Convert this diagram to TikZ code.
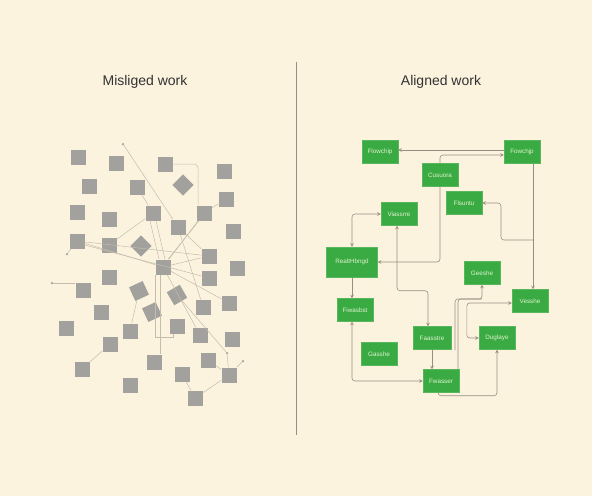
\documentclass[tikz,border=0pt]{standalone}
\usepackage{fontspec}
\setmainfont{Liberation Sans}
\usetikzlibrary{shapes.geometric, arrows, positioning, calc}
\definecolor{papercream}{RGB}{252,243,223}
\definecolor{squaregray}{RGB}{163,161,157}
\definecolor{tanglegray}{RGB}{196,188,172}
\definecolor{boxgreen}{RGB}{58,170,66}
\definecolor{boxtext}{RGB}{222,244,206}
\definecolor{linkgray}{RGB}{150,142,130}
\definecolor{titlegray}{RGB}{50,50,50}
\tikzstyle{graysq} = [rectangle, fill=squaregray, minimum size=15pt, inner sep=0pt]
\tikzstyle{loosedot} = [circle, fill=squaregray, inner sep=0pt, minimum size=2.5pt]
\tikzstyle{mess} = [line width=0.5pt, tanglegray]
\tikzstyle{task} = [rectangle, fill=boxgreen, draw=boxgreen!85!white, minimum width=36pt, minimum height=23pt, inner sep=1pt, text=boxtext, font=\fontsize{6.3}{7}\selectfont]
\tikzstyle{link} = [->, >=stealth, line width=0.6pt, linkgray]
\tikzstyle{linkboth} = [<->, >=stealth, line width=0.6pt, linkgray]
\tikzstyle{heading} = [font=\fontsize{14}{16}\selectfont, text=titlegray]

\begin{document}
\begin{tikzpicture}[x=1pt, y=-1pt]
\fill[papercream] (0,0) rectangle (592,496);
\useasboundingbox (0,0) rectangle (592,496);

% Headings and divider
\node[heading] (lefttitle) at (145,82) {Misliged work};
\node[heading] (righttitle) at (441,82) {Aligned work};
\draw[line width=0.8pt, linkgray] (296,62) -- (296,435);

% Misaligned side: scattered squares
\foreach \n/\x/\y in {1/78/157, 2/116/163, 3/165/164, 4/224/171, 5/89/186, 6/137/187, 7/226/199, 8/77/212, 9/109/219, 10/153/213, 11/204/213, 12/178/227, 13/233/231, 14/77/241, 15/109/245, 16/209/256, 17/163/267, 18/237/268, 19/109/277, 20/209/278, 21/83/290, 22/101/312, 23/203/307, 24/229/303, 25/66/328, 26/130/331, 27/177/326, 28/200/335, 29/232/339, 30/110/344, 31/82/369, 32/154/362, 33/208/360, 34/182/374, 35/229/375, 36/130/385, 37/195/398} {
    \node[graysq] (s\n) at (\x,\y) {};
}
\foreach \n/\x/\y/\r in {1/183/185/45, 2/141/246/45, 3/139/291/25, 4/177/295/30, 5/152/312/25} {
    \node[graysq, rotate=\r] (d\n) at (\x,\y) {};
}
\foreach \n/\x/\y in {1/123/144, 2/67/254, 3/227/353, 4/243/361, 5/52/283} {
    \node[loosedot] (p\n) at (\x,\y) {};
}

% Tangled threads
\foreach \a/\b in {p1/s12, s11/s7, s6/s10, s15/s10, p2/s14, s14/s17, s14/s16, s11/s17, s12/s16, s17/s16, s17/s24, s12/s23, s17/s28, d3/s26, d4/p3, p3/s35, s33/s35, s35/p4, s35/s37, s34/s37, s30/s31} {
    \draw[mess] (\a) -- (\b);
}
\draw[mess] ([xshift=-3pt]s10.south) -- ([xshift=-4pt]s17.north);
\draw[mess] ([xshift=3pt]s10.south) -- ([xshift=2pt]s17.north);
\draw[mess] ([yshift=-4pt]s14.east) -- (s20);
\draw[mess] ([xshift=-5pt]s11.south) -- ([xshift=5pt]s17.north);
\draw[mess, rounded corners=4pt] (s3.east) -| ([xshift=-6pt]s11.north);
\draw[mess] ([xshift=-8pt]s17.south) -- ++(0,63) -| ([xshift=-4pt]s27.south);
\draw[mess] ([xshift=-3pt]s17.south) -- ([xshift=6pt]s32.north);
\draw[mess] (p5) -- (p5 -| s21.west);

% Aligned side: task boxes
\node[task] (flowchip) at (380,152) {Flowchip};
\node[task] (fowchjp) at (522,152) {Fowchjp};
\node[task] (cusuora) at (440,175) {Cusuora};
\node[task] (flsuntu) at (464,203) {Flsuntu};
\node[task] (viassrre) at (399,214) {Viassrre};
\node[task, minimum width=51pt, minimum height=30pt] (realt) at (352,262) {RealtHbngd};
\node[task] (geeshe) at (482,273) {Geeshe};
\node[task] (vesshe) at (530,301) {Vesshe};
\node[task] (fiwasbst) at (355,310) {Fiwasbst};
\node[task, minimum width=38pt] (faasstre) at (432,338) {Faasstre};
\node[task] (duglaye) at (497,338) {Duglaye};
\node[task] (gasshe) at (379,354) {Gasshe};
\node[task] (fwasser) at (441,381) {Fwasser};

% Connectors
\coordinate (jD) at (533,240);
\coordinate (jG) at (482,299);
\coordinate (jM) at (455,350);
\draw[link] ([yshift=2pt]fowchjp.west) -- ([yshift=2pt]flowchip.east);
\draw[link, rounded corners=3pt] (cusuora.north) |- ([yshift=-3pt]fowchjp.west);
\draw[link] ([xshift=11pt]fowchjp.south) -- ([xshift=3pt]vesshe.north);
\draw[link, rounded corners=3pt] (jD) -- ++(-32,0) |- (flsuntu.east);
\draw[linkboth, rounded corners=3pt] (realt.north) |- (viassrre.west);
\draw[link, rounded corners=3pt] (cusuora.south) |- (realt.east);
\draw[linkboth, rounded corners=3pt] ([xshift=-2pt]viassrre.south) -- ++(0,65) -| ([xshift=-4pt]faasstre.north);
\draw[link] (realt.south) -- (realt.south |- fiwasbst.north);
\draw[linkboth, rounded corners=3pt] ([xshift=-3pt]fiwasbst.south) |- (fwasser.west);
\draw[link] (faasstre.south) -- (faasstre.south |- fwasser.north);
\draw[link, rounded corners=3pt] ([xshift=-3pt]fwasser.south) -- ++(0,3) -| (duglaye.south);
\draw[link, rounded corners=3pt] ([xshift=17pt]fwasser.north) |- (jG) -- (geeshe.south);
\draw[line width=0.6pt, linkgray, rounded corners=3pt] (jM) |- (jG);
\draw[linkboth, rounded corners=3pt] ([yshift=-2pt]vesshe.west) -- ++(-45,0) |- (duglaye.west);
\end{tikzpicture}
\end{document}
